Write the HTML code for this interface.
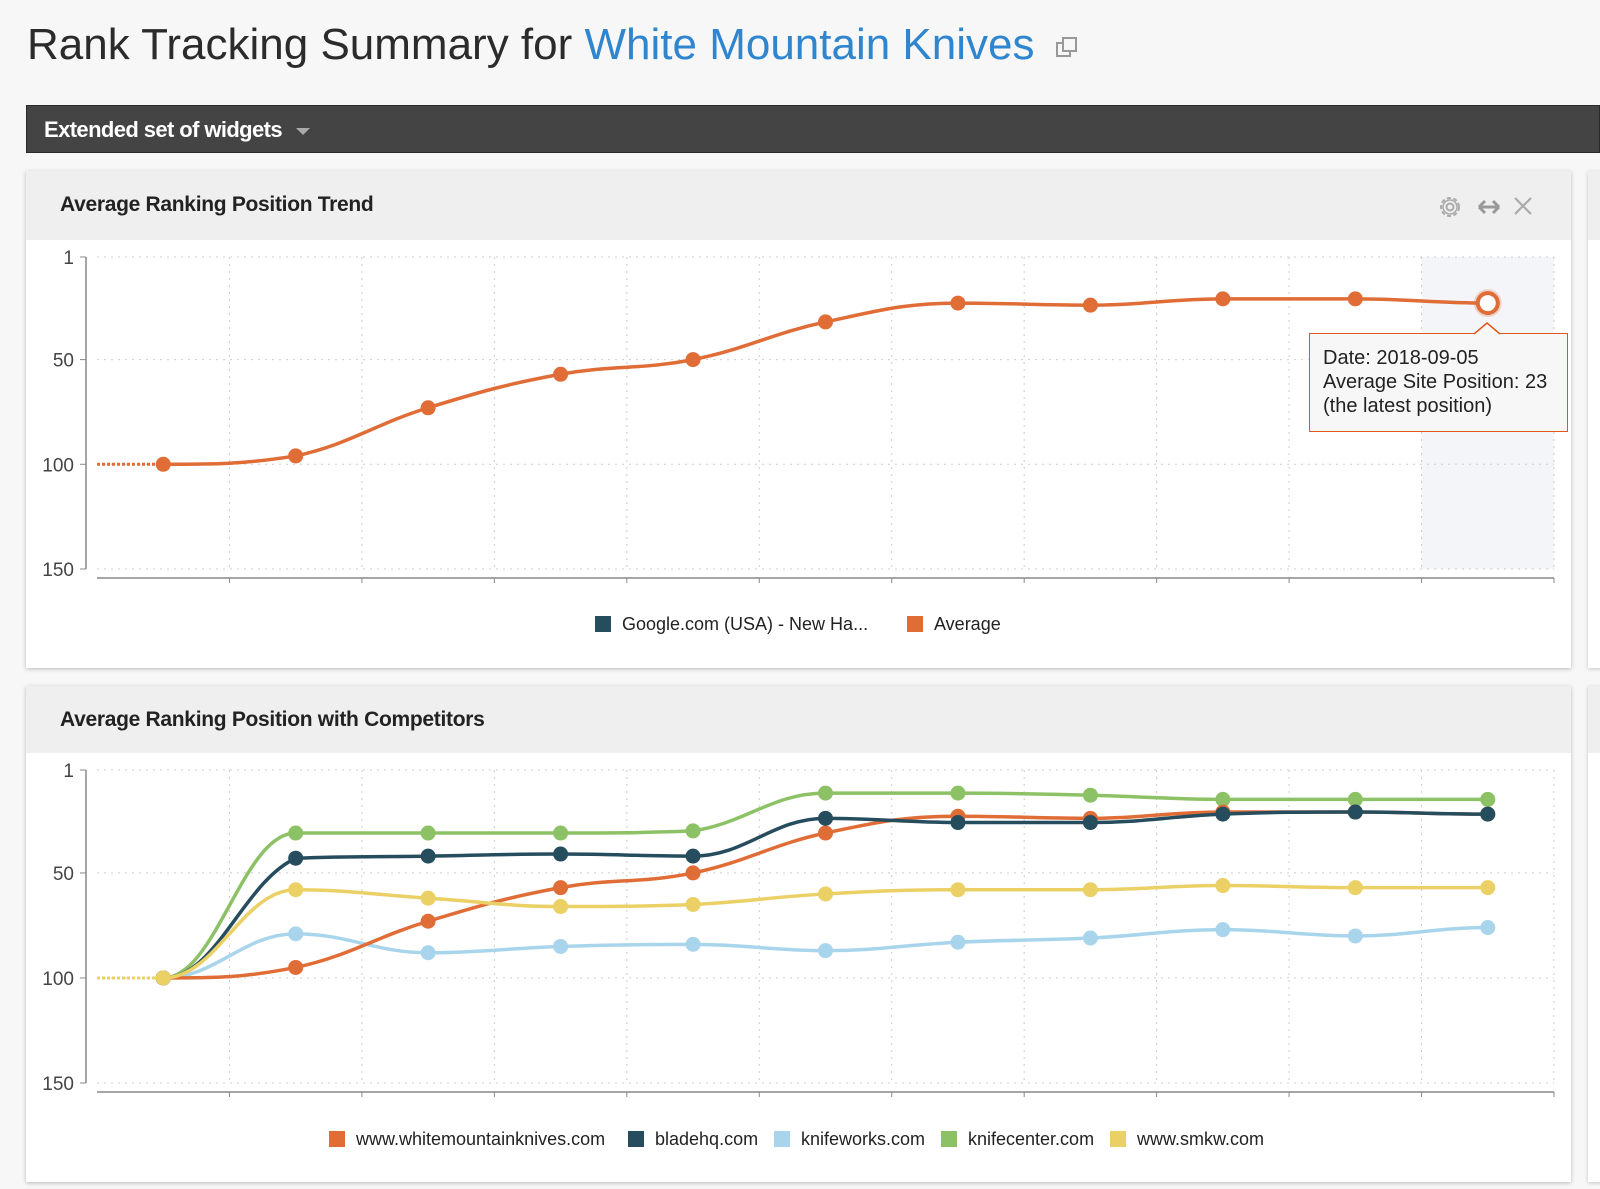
<!DOCTYPE html>
<html><head><meta charset="utf-8">
<style>
body{margin:0;width:1600px;height:1189px;background:#f7f7f7;font-family:"Liberation Sans",sans-serif;overflow:hidden;position:relative}
.abs{position:absolute}
</style></head><body>
<div class="abs" style="left:27px;top:20px;font-size:44px;color:#2b2b2b;white-space:nowrap">Rank Tracking Summary for <span style="color:#2f86cf">White Mountain Knives</span>
<svg width="24" height="24" style="vertical-align:middle;margin-left:8px" viewBox="0 0 24 24"><rect x="2" y="8" width="13" height="13" fill="none" stroke="#999" stroke-width="2"/><rect x="8" y="3" width="13" height="13" fill="#f7f7f7" stroke="#999" stroke-width="2"/></svg></div>
<div class="abs" style="left:26px;top:105px;width:1574px;height:48px;background:#444;border:1px solid #2a2a2a;box-sizing:border-box">
<span style="position:absolute;left:17px;top:11px;color:#fff;font-size:22px;font-weight:bold;letter-spacing:-0.6px">Extended set of widgets <span style="display:inline-block;width:0;height:0;border-left:7px solid transparent;border-right:7px solid transparent;border-top:7px solid #aaa;margin-left:8px;vertical-align:middle"></span></span></div>

<div class="abs" style="left:1588px;top:171px;width:20px;height:497px;background:#fff;box-shadow:0 1px 4px rgba(0,0,0,.2)"><div style="height:69px;background:#efefef"></div></div>
<div class="abs" style="left:1588px;top:686px;width:20px;height:496px;background:#fff;box-shadow:0 1px 4px rgba(0,0,0,.2)"><div style="height:67px;background:#efefef"></div></div>

<div class="abs" style="left:26px;top:171px;width:1545px;height:497px;background:#fff;box-shadow:0 1px 4px rgba(0,0,0,.25)">
<div style="height:69px;background:#efefef;position:relative"><span style="position:absolute;left:34px;top:22px;font-size:21px;font-weight:bold;color:#222;letter-spacing:-0.3px">Average Ranking Position Trend</span>
<svg class="abs" style="left:1410px;top:22px" width="28" height="28" viewBox="0 0 28 28"><circle cx="14" cy="14" r="9" fill="none" stroke="#aaa" stroke-width="2" stroke-dasharray="4 2.5"/><circle cx="14" cy="14" r="7" fill="none" stroke="#aaa" stroke-width="1.5"/><circle cx="14" cy="14" r="3.5" fill="none" stroke="#aaa" stroke-width="2"/></svg>
<svg class="abs" style="left:1450px;top:24px" width="26" height="24" viewBox="0 0 26 24"><path d="M3 12H23M3 12L9 6M3 12L9 18M23 12L17 6M23 12L17 18" stroke="#999" stroke-width="3" fill="none"/></svg>
<svg class="abs" style="left:1486px;top:24px" width="22" height="22" viewBox="0 0 22 22"><path d="M3 3L19 19M19 3L3 19" stroke="#aaa" stroke-width="2.2"/></svg>
</div></div>

<div class="abs" style="left:26px;top:686px;width:1545px;height:496px;background:#fff;box-shadow:0 1px 4px rgba(0,0,0,.25)">
<div style="height:67px;background:#efefef;position:relative"><span style="position:absolute;left:34px;top:22px;font-size:21px;font-weight:bold;color:#222;letter-spacing:-0.3px">Average Ranking Position with Competitors</span></div></div>

<svg id="charts" class="abs" style="left:0;top:0" width="1600" height="1189"></svg>

<div class="abs" style="left:1309px;top:333px;width:259px;height:99px;box-sizing:border-box;border:1.5px solid #e0571c;background:#f7f7f7;padding:12px 0 0 13px;font-size:20px;line-height:24px;color:#222">Date: 2018-09-05<br>Average Site Position: 23<br>(the latest position)</div>
<svg class="abs" style="left:1474px;top:322px" width="26" height="13"><path d="M0 12L13 1L26 12" fill="#f7f7f7" stroke="#e0571c" stroke-width="1.5"/></svg>

<script>
const dates = ['d1','d2','d3','d4','d5','d6','d7','d8','d9','d10','d11'];
const yTicks = [1,50,100,150];
const avgValues = [100,96,73,57,50,32,23,24,21,21,23];
const whitemountain = [100,95,73,57,50,31,23,24,21,21,22];
const bladehq = [100,43,42,41,42,24,26,26,22,21,22];
const knifeworks = [100,79,88,85,84,87,83,81,77,80,76];
const knifecenter = [100,31,31,31,30,12,12,13,15,15,15];
const smkw = [100,58,62,66,65,60,58,58,56,57,57];
const NS='http://www.w3.org/2000/svg';
const svg=document.getElementById('charts');
function mk(tag,attrs,parent){const e=document.createElementNS(NS,tag);for(const k in attrs)e.setAttribute(k,attrs[k]);(parent||svg).appendChild(e);return e;}
function clamp(v,a,b){const lo=Math.min(a,b),hi=Math.max(a,b);return Math.max(lo,Math.min(hi,v));}
function spline(pts){let d='M'+pts[0][0]+' '+pts[0][1];const s=1.5;
 for(let i=1;i<pts.length;i++){const p0=pts[i-1],p1=pts[i];
  const pp=pts[i-2]||p0,pn=pts[i+1]||p1;
  let c1x=(s*p0[0]+p1[0])/(s+1),c1y;
  let c2x=(s*p1[0]+p0[0])/(s+1),c2y;
  if(i>1&&(p0[1]-pp[1])*(p1[1]-p0[1])>0){const m=(p1[1]-pp[1])/(p1[0]-pp[0]);c1y=p0[1]+m*(c1x-p0[0]);}
  else c1y=p0[1];
  if(i<pts.length-1&&(p1[1]-p0[1])*(pn[1]-p1[1])>0){const m=(pn[1]-p0[1])/(pn[0]-p0[0]);c2y=p1[1]+m*(c2x-p1[0]);}
  else c2y=p1[1];
  c1y=clamp(c1y,p0[1],p1[1]);c2y=clamp(c2y,p0[1],p1[1]);
  d+=` C${c1x} ${c1y} ${c2x} ${c2y} ${p1[0]} ${p1[1]}`;}
 return d;}
function chart(cfg){
 const x0=97,x1=1554,band=(x1-x0)/dates.length;
 const X=i=>x0+band*(i+0.5);
 const Y=v=>cfg.top+(v-1)/149*(cfg.bot-cfg.top);
 const g=mk('g',{});
 
 
 if(cfg.hl){const r=mk('rect',{x:X(dates.length-1)-band/2,y:cfg.top,width:band,height:cfg.bot-cfg.top,fill:'#f3f5f9'},g);
  }
 yTicks.forEach(t=>{const y=Y(t);
  mk('line',{x1:x0,x2:x1,y1:y,y2:y,stroke:'#ccc','stroke-dasharray':'2 5'},g);
  mk('line',{x1:80,x2:86,y1:y,y2:y,stroke:'#888'},g);
  const tx=mk('text',{x:74,y:y+7,'text-anchor':'end','font-size':19,fill:'#444'},g);tx.textContent=t;
  });
 for(let i=1;i<=dates.length;i++){const x=x0+band*i;
  mk('line',{x1:x,x2:x,y1:cfg.top,y2:cfg.bot,stroke:'#ccc','stroke-dasharray':'2 5'},g);
  mk('line',{x1:x,x2:x,y1:cfg.axis,y2:cfg.axis+5,stroke:'#888'},g);}
 mk('line',{x1:86,x2:86,y1:cfg.top,y2:cfg.bot,stroke:'#888','stroke-width':1.5},g);
 mk('line',{x1:x0,x2:x1,y1:cfg.axis,y2:cfg.axis,stroke:'#888','stroke-width':1.5},g);
 cfg.series.forEach(s=>{
  mk('line',{x1:x0,x2:X(0),y1:Y(s.data[0]),y2:Y(s.data[0]),stroke:s.color,'stroke-width':3,'stroke-dasharray':'3 2'},g);
  const p=mk('path',{d:spline(s.data.map((v,i)=>[X(i),Y(v)])),fill:'none',stroke:s.color,'stroke-width':3.5},g);
  
  s.data.forEach((v,i)=>{
   if(cfg.hl&&i===s.data.length-1){mk('circle',{cx:X(i),cy:Y(v),r:14,fill:s.color,opacity:.25},g);
    const c=mk('circle',{cx:X(i),cy:Y(v),r:10,fill:'#fff',stroke:s.color,'stroke-width':4},g);
    return;}
   const c=mk('circle',{cx:X(i),cy:Y(v),r:7.5,fill:s.color},g);
   });
 });
 cfg.legend.forEach(l=>{
  const r=mk('rect',{x:l.x,y:cfg.ly-8,width:16,height:16,fill:l.color},g);
  
  const t=mk('text',{x:l.x+27,y:cfg.ly+6,'font-size':18,fill:'#222'},g);t.textContent=l.label;
  });
}
const OR='#e06c36',DK='#264d5e',LB='#a9d5ec',GR='#8cc265',YE='#ebd065';
chart({name:'trend-chart',top:257,bot:569,axis:578,hl:true,ly:624,
 series:[{data:avgValues,color:OR}],
 legend:[{x:595,color:DK,label:'Google.com (USA) - New Ha...'},{x:907,color:OR,label:'Average'}]});
chart({name:'competitors-chart',top:770,bot:1083,axis:1092,hl:false,ly:1139,
 series:[{data:knifeworks,color:LB},{data:knifecenter,color:GR},{data:whitemountain,color:OR},{data:bladehq,color:DK},{data:smkw,color:YE}],
 legend:[{x:329,color:OR,label:'www.whitemountainknives.com'},{x:628,color:DK,label:'bladehq.com'},{x:774,color:LB,label:'knifeworks.com'},{x:941,color:GR,label:'knifecenter.com'},{x:1110,color:YE,label:'www.smkw.com'}]});
</script>
</body></html>
